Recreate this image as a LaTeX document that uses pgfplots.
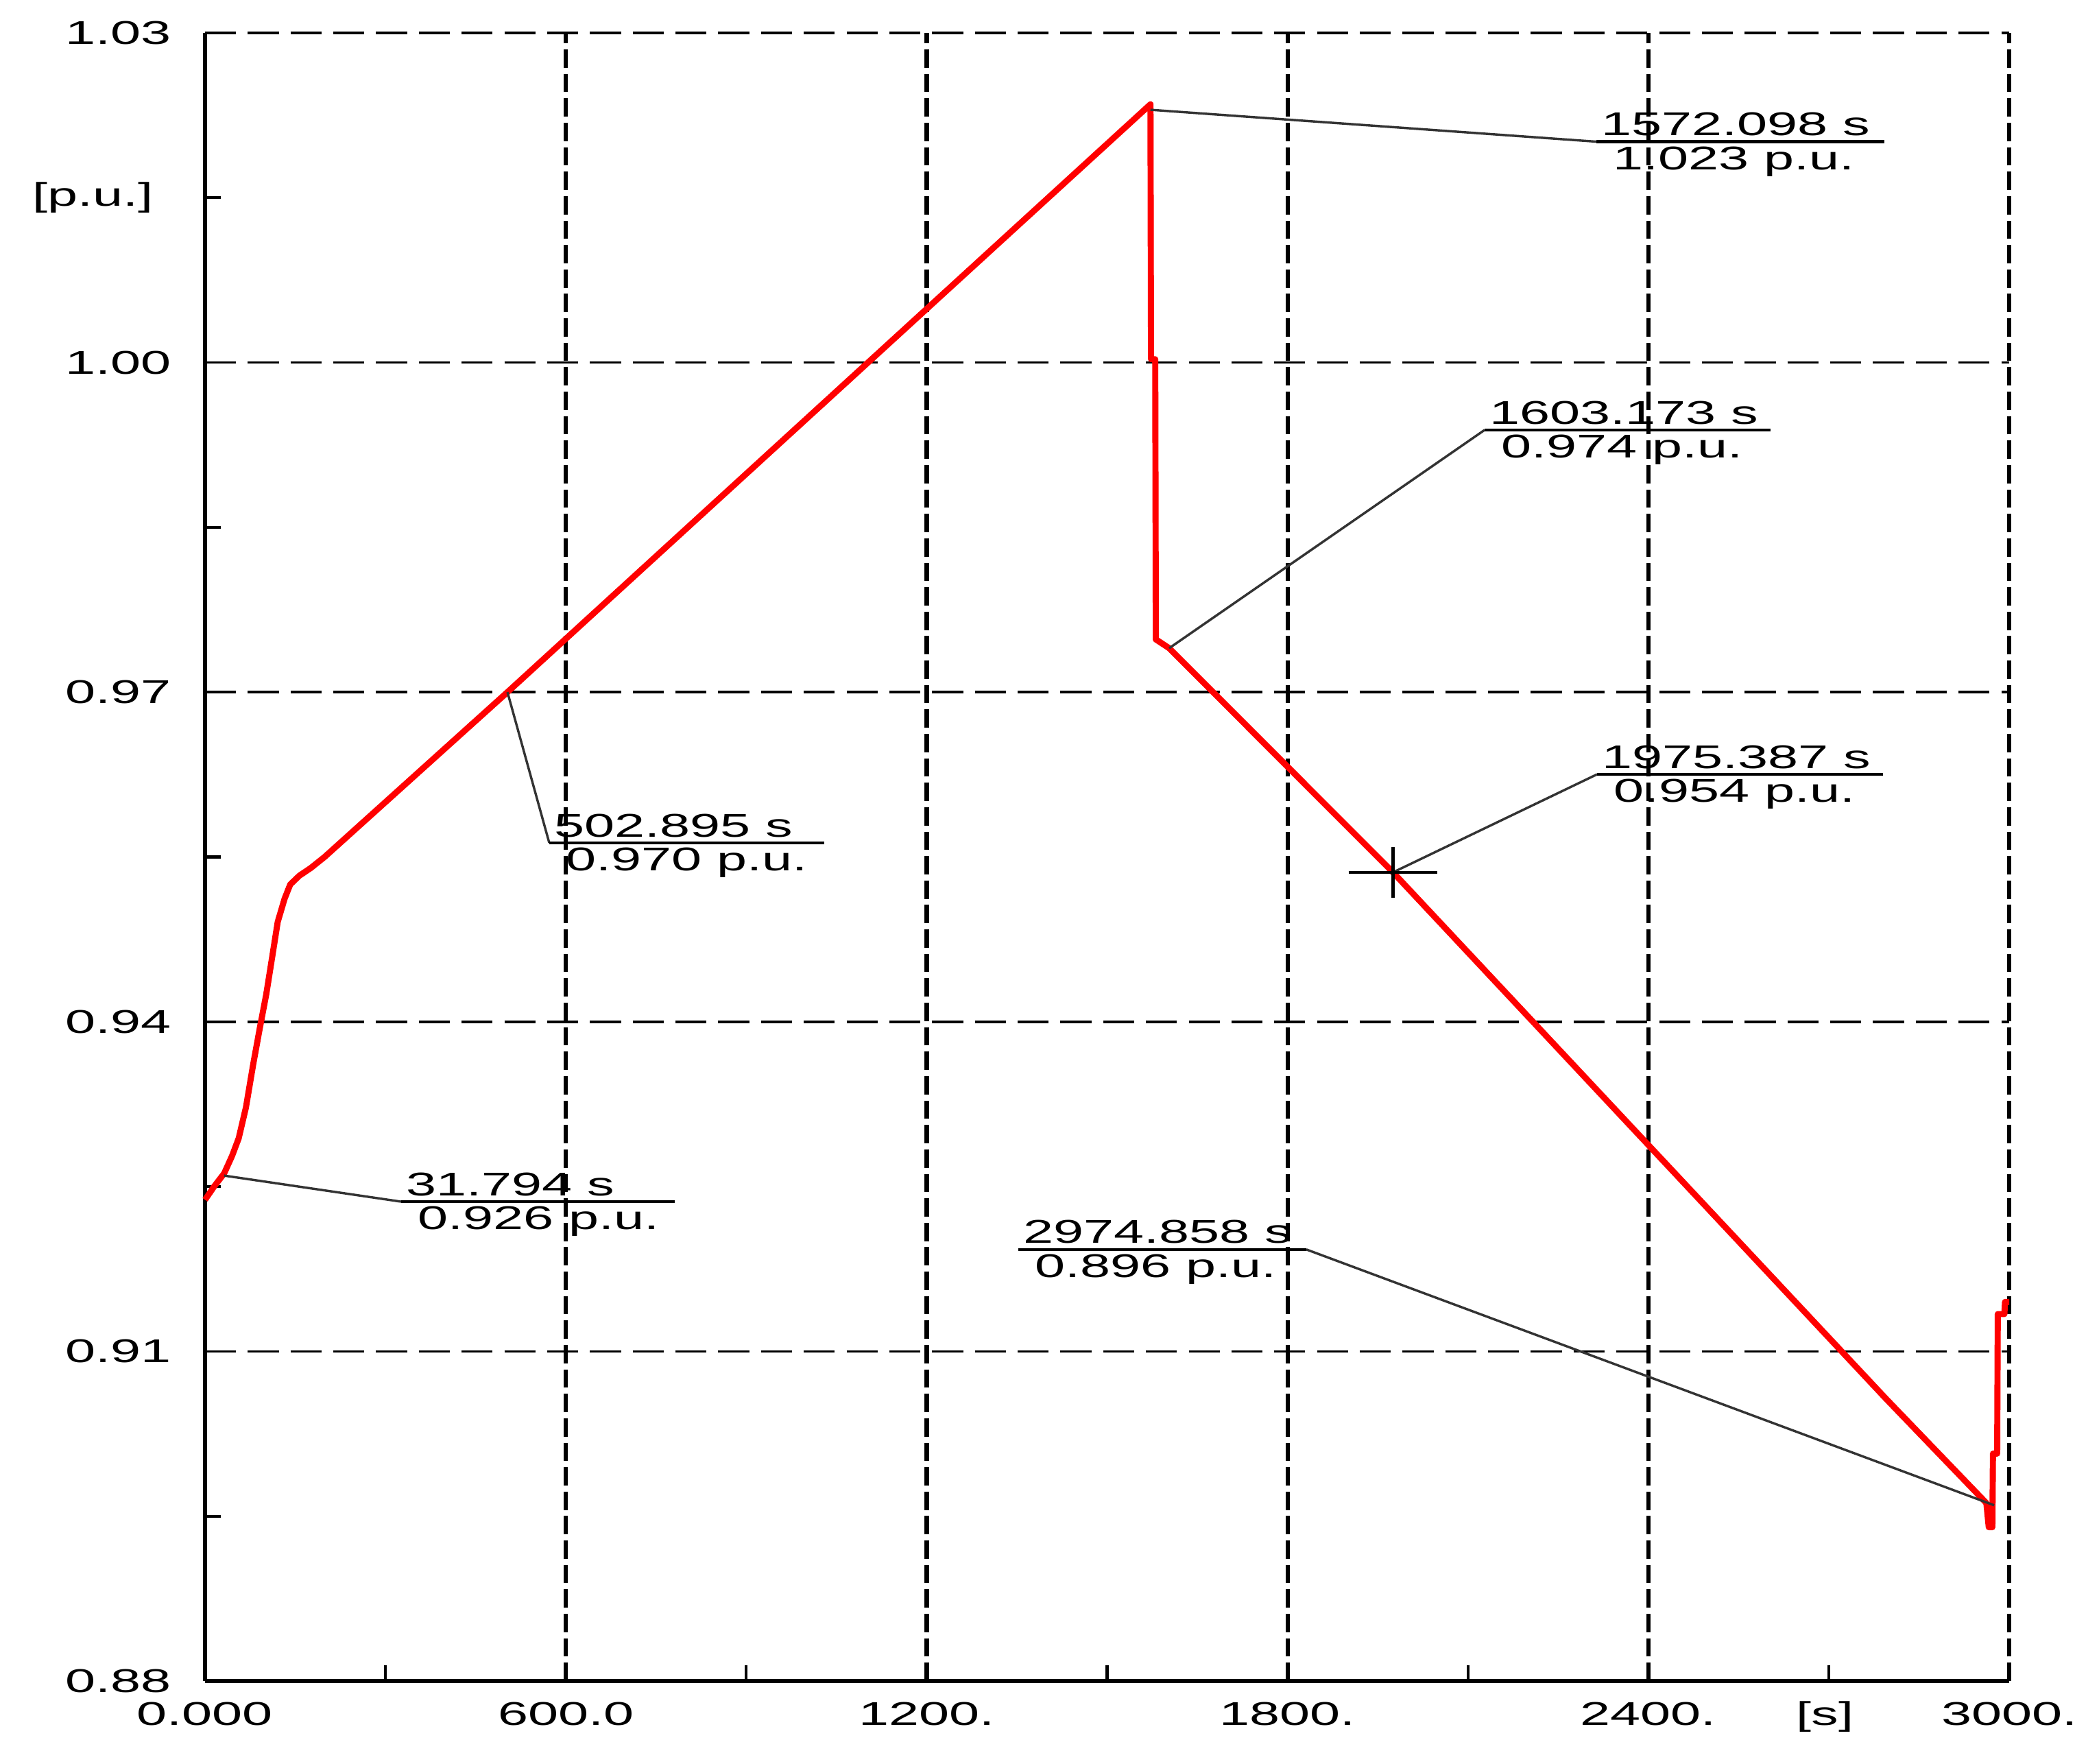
\documentclass[border=0pt]{standalone}
\usepackage{fontspec}
\setmainfont{Liberation Sans}[FakeStretch=1.65]
\usepackage{pgfplots}
\pgfplotsset{compat=1.18}

\tikzset{lbl/.style={font=\fontsize{7}{8}\selectfont, inner sep=0pt}}

% underline from x1 to x2 at y, time above, value below
\newcommand{\annot}[5]{%
  \draw[line width=0.6pt] (axis cs:#1,#3) -- (axis cs:#2,#3);
  \node[lbl, anchor=base west, xshift=0.03cm, yshift=0.045cm] at (axis cs:#1,#3) {#4};
  \node[lbl, anchor=north west, xshift=0.12cm, yshift=-0.03cm] at (axis cs:#1,#3) {#5};}

\begin{document}
\begin{tikzpicture}
\begin{axis}[
  scale only axis,
  width=13.492cm, height=12.323cm,
  xmin=0, xmax=3000, ymin=0.88, ymax=1.03,
  axis x line=bottom, axis y line=left,
  axis line style={-, line width=0.8pt},
  xtick={0,600,1200,1800,2400,3000},
  xticklabels={0.000,600.0,1200.,1800.,2400.,3000.},
  ytick={0.88,0.91,0.94,0.97,1.00,1.03},
  yticklabels={0.88,0.91,0.94,0.97,1.00,1.03},
  minor xtick={300,900,1500,2100,2700},
  minor ytick={0.895,0.925,0.955,0.985,1.015},
  major tick length=0pt,
  minor tick length=0.12cm,
  tick align=inside,
  tick style={black, line width=0.6pt},
  grid=major,
  x grid style={black, line width=0.9pt, dash pattern=on 3.9pt off 1.3pt},
  y grid style={black, line width=0.5pt, dash pattern=on 6.6pt off 2.5pt},
  tick label style={font=\fontsize{7}{8}\selectfont, inner sep=0pt},
  xticklabel style={anchor=base, yshift=-0.333cm},
  yticklabel style={anchor=east, xshift=-0.246cm},
  clip=false,
]
\addplot[red, line width=1.3pt, line join=round] coordinates {
  (0,0.9238) (15,0.9250) (31.8,0.9262) (45,0.9278) (56,0.9294)
  (68,0.9322) (80,0.9361) (91,0.9394) (101.8,0.9425) (111.4,0.9458)
  (120.9,0.9491) (132.3,0.9512) (141.7,0.9525) (157,0.9533)
  (176,0.9540) (198.8,0.9550) (502.9,0.9700)
  (1572.1,1.0235)
  (1573,1.0003) (1580,1.0003) (1581,0.9748) (1603.2,0.9740)
  (1975.4,0.9536) (2795,0.9057) (2962,0.8962) (2966,0.8940)
  (2972,0.8940) (2973,0.9007) (2980,0.9007) (2981,0.9134)
  (2992,0.9134) (2993,0.9145) (3000,0.9145)
};
\addplot[only marks, mark=+, mark size=0.19cm,
  mark options={xscale=1.75, line width=0.6pt, black}]
  coordinates {(1975.387,0.9536)};

% leader lines
\draw[line width=0.5pt, black!80] (axis cs:31.794,0.926) -- (axis cs:326,0.92363);
\draw[line width=0.5pt, black!80] (axis cs:502.895,0.970) -- (axis cs:572.4,0.95628);
\draw[line width=0.5pt, black!80] (axis cs:1572.098,1.023) -- (axis cs:2313.6,1.0201);
\draw[line width=0.5pt, black!80] (axis cs:1603.173,0.974) -- (axis cs:2127.7,0.99386);
\draw[line width=0.5pt, black!80] (axis cs:1975.387,0.9536) -- (axis cs:2314.7,0.96252);
\draw[line width=0.5pt, black!80] (axis cs:2974.858,0.896) -- (axis cs:1831.2,0.91928);

\annot{326}{781}{0.92363}{31.794 s}{0.926 p.u.}
\annot{572.4}{1029.6}{0.95628}{502.895 s}{0.970 p.u.}
\annot{2313.6}{2792.5}{1.0201}{1572.098 s}{1.023 p.u.}
\annot{2127.7}{2603.2}{0.99386}{1603.173 s}{0.974 p.u.}
\annot{2314.7}{2790}{0.96252}{1975.387 s}{0.954 p.u.}
\annot{1352.3}{1831.2}{0.91928}{2974.858 s}{0.896 p.u.}

\node[lbl, anchor=east, xshift=-0.38cm] at (axis cs:0,1.015) {[p.u.]};
\node[lbl, anchor=base, yshift=-0.333cm] at (axis cs:2694,0.88) {[s]};

\coordinate (bbSW) at (rel axis cs:-0.11365,-0.04994);
\coordinate (bbNE) at (rel axis cs:1.03649,1.01998);
\end{axis}
\pgfresetboundingbox
\useasboundingbox (bbSW) rectangle (bbNE);
\end{tikzpicture}
\end{document}
